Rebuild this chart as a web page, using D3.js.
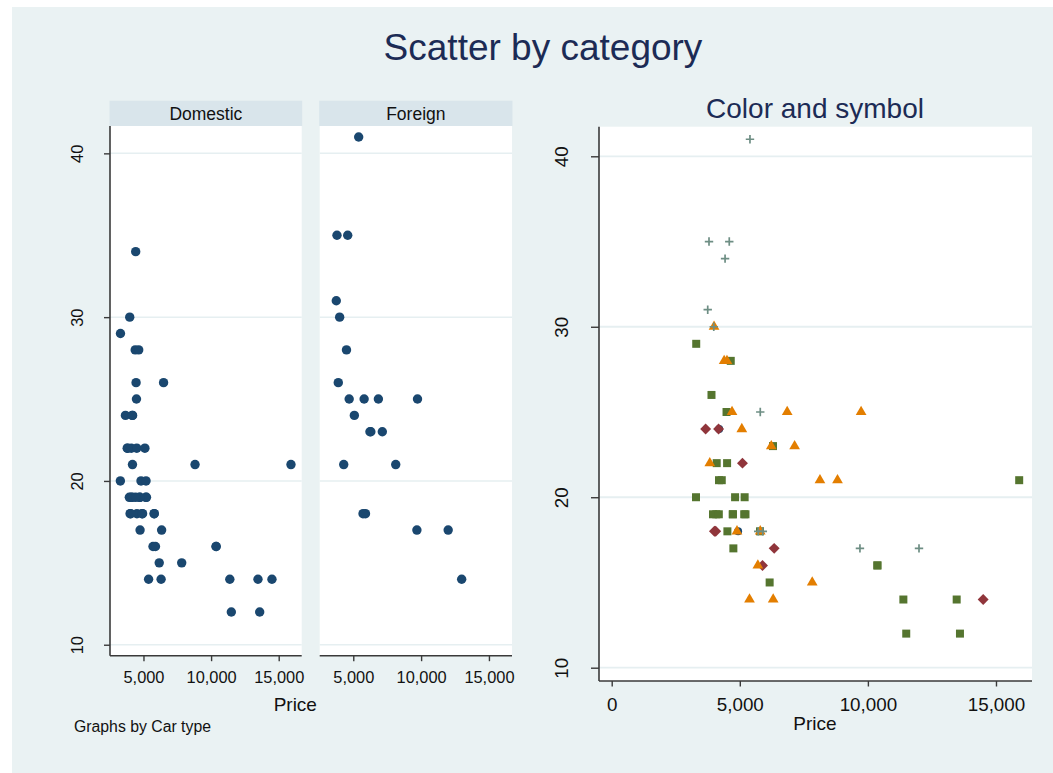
<!DOCTYPE html>
<html><head><meta charset="utf-8">
<script src="https://cdn.jsdelivr.net/npm/d3@7"></script>
<style>html,body{margin:0;padding:0;background:#fff}svg{display:block}text{font-family:"Liberation Sans",Arial,Helvetica,sans-serif}</style>
</head><body>
<svg id="c" width="1053" height="773"></svg>
<script>
// Stata auto dataset: price, mpg, rep78 (null = missing), foreign (0 Domestic, 1 Foreign)
const price = [4099,4749,3799,4816,7827,5788,4453,5189,10372,4082,11385,14500,15906,3299,5705,4504,5104,3667,3955,3984,4010,5886,6342,4389,4187,11497,13594,13466,3829,5379,6165,4516,6303,3291,8814,5172,4733,4890,4181,4195,10371,4647,4425,4482,6486,4060,5798,4934,5222,4723,4424,4172,
  9690,6295,9735,6229,4589,5079,8129,4296,5799,4499,3995,12990,3895,3798,5899,3748,5719,7140,5397,4697,6850,11995];
const mpg = [22,17,22,20,15,18,26,20,16,19,14,14,21,29,16,22,22,24,19,30,18,16,17,28,21,12,12,14,22,14,15,18,14,20,21,19,19,18,19,24,16,28,34,25,26,18,18,18,19,19,19,24,
  17,23,25,23,35,24,21,21,25,28,30,14,26,35,18,31,18,23,41,25,25,17];
const rep78 = [3,3,null,3,4,3,null,3,3,3,3,2,3,3,4,3,2,2,3,5,2,2,2,4,3,3,3,3,4,4,3,3,4,3,4,3,3,4,3,1,3,3,5,3,null,2,4,1,3,3,null,2,
  5,3,4,4,5,4,4,3,5,4,4,null,3,5,5,5,5,4,5,4,4,5];
const foreign = [0,0,0,0,0,0,0,0,0,0,0,0,0,0,0,0,0,0,0,0,0,0,0,0,0,0,0,0,0,0,0,0,0,0,0,0,0,0,0,0,0,0,0,0,0,0,0,0,0,0,0,0,
  1,1,1,1,1,1,1,1,1,1,1,1,1,1,1,1,1,1,1,1,1,1];
const groupNames = ["Domestic","Foreign"];
const repLevels = [1,2,3,4,5];
const yTicks = [10,20,30,40];
const xTicksLeft = [5000,10000,15000];
const xTicksRight = [0,5000,10000,15000];
const mainTitle = "Scatter by category";
const rightTitle = "Color and symbol";
const xLabel = "Price";
const byNote = "Graphs by Car type";

const cars = price.map((p,i)=>({price:p, mpg:mpg[i], rep:rep78[i], foreign:foreign[i]}));

const svg = d3.select("#c");
const BG = "#eaf2f3", GRID = "#e6eff1", AX = "#3a3a3a", TXT = "#111";
const FONT = '"Liberation Sans",Arial,Helvetica,sans-serif';
const fmt = d3.format(",");

svg.append("rect").attr("x",12).attr("y",7).attr("width",1041).attr("height",766).attr("fill",BG);

svg.append("text").attr("x",543).attr("y",60).attr("text-anchor","middle")
  .attr("font-size",37).attr("fill","#1c2b55").text(mainTitle);

// ---------- Left: by-group panels ----------
const yL = d3.scaleLinear().domain([9.33,41.67]).range([655.7,126]);
const panels = [{x0:110,x1:301.7},{x0:319.7,x1:512}];
panels.forEach((pn,gi)=>{
  const xs = d3.scaleLinear().domain([2525,16700]).range([pn.x0,pn.x1]);
  const g = svg.append("g");
  g.append("rect").attr("x",pn.x0-0.5).attr("y",100.7).attr("width",pn.x1-pn.x0+1).attr("height",25.3).attr("fill","#d9e5eb");
  g.append("text").attr("x",(pn.x0+pn.x1)/2).attr("y",119.5).attr("text-anchor","middle")
    .attr("font-size",17.5).attr("fill",TXT).text(groupNames[gi]);
  g.append("rect").attr("x",pn.x0).attr("y",126).attr("width",pn.x1-pn.x0).attr("height",655.7-126).attr("fill","#fff");
  g.selectAll(".gl").data(yTicks).join("line")
    .attr("x1",pn.x0).attr("x2",pn.x1).attr("y1",d=>yL(d)).attr("y2",d=>yL(d))
    .attr("stroke",GRID).attr("stroke-width",1.5);
  const xa = g.append("g").attr("transform","translate(0,655.7)")
    .call(d3.axisBottom(xs).tickValues(xTicksLeft).tickFormat(fmt).tickSize(5.5).tickSizeOuter(0));
  xa.select(".domain").attr("stroke",AX).attr("stroke-width",1.6).attr("d",`M${pn.x0},0H${pn.x1}`);
  xa.selectAll(".tick line").attr("stroke",AX).attr("stroke-width",1.4);
  xa.selectAll(".tick text").attr("font-family",FONT).attr("font-size",16.4).attr("fill",TXT)
    .attr("y",27.6).attr("dy",0);
  if(gi===0){
    const ya = g.append("g").attr("transform",`translate(${pn.x0},0)`)
      .call(d3.axisLeft(yL).tickValues(yTicks).tickSize(6).tickSizeOuter(0));
    ya.select(".domain").attr("stroke",AX).attr("stroke-width",1.6).attr("d","M0,126V655.7");
    ya.selectAll(".tick line").attr("stroke",AX).attr("stroke-width",1.4);
    ya.selectAll(".tick text").attr("font-family",FONT).attr("font-size",16.4).attr("fill",TXT)
      .attr("x",0).attr("dy",0).attr("text-anchor","middle").attr("transform","translate(-27.3,0) rotate(-90)");
  }
  g.selectAll("circle.pt").data(cars.filter(c=>c.foreign===gi)).join("circle")
    .attr("cx",d=>xs(d.price)).attr("cy",d=>yL(d.mpg)).attr("r",4.7).attr("fill","#1a476f");
});
svg.append("text").attr("x",295.3).attr("y",710.7).attr("text-anchor","middle")
  .attr("font-size",19).attr("fill",TXT).text(xLabel);
svg.append("text").attr("x",74).attr("y",732.3).attr("font-size",15.8).attr("fill",TXT).text(byNote);

// ---------- Right: colour and symbol ----------
const xR = d3.scaleLinear().domain([-496,16406]).range([599,1032]);
const yR = d3.scaleLinear().domain([9.22,41.736]).range([681,126.7]);
const gR = svg.append("g");
gR.append("text").attr("x",815).attr("y",118).attr("text-anchor","middle")
  .attr("font-size",28).attr("fill","#1c2b55").text(rightTitle);
gR.append("rect").attr("x",599).attr("y",126.7).attr("width",1032-599).attr("height",681-126.7).attr("fill","#fff");
gR.selectAll(".gl").data(yTicks).join("line")
  .attr("x1",599).attr("x2",1032).attr("y1",d=>yR(d)).attr("y2",d=>yR(d))
  .attr("stroke",GRID).attr("stroke-width",1.8);
const xaR = gR.append("g").attr("transform","translate(0,681)")
  .call(d3.axisBottom(xR).tickValues(xTicksRight).tickFormat(fmt).tickSize(5.5).tickSizeOuter(0));
xaR.select(".domain").attr("stroke",AX).attr("stroke-width",1.6).attr("d","M599,0H1032");
xaR.selectAll(".tick line").attr("stroke",AX).attr("stroke-width",1.4);
xaR.selectAll(".tick text").attr("font-family",FONT).attr("font-size",18.8).attr("fill",TXT).attr("y",30).attr("dy",0);
const yaR = gR.append("g").attr("transform","translate(599,0)")
  .call(d3.axisLeft(yR).tickValues(yTicks).tickSize(8).tickSizeOuter(0));
yaR.select(".domain").attr("stroke",AX).attr("stroke-width",1.6).attr("d","M0,126.7V681");
yaR.selectAll(".tick line").attr("stroke",AX).attr("stroke-width",1.4);
yaR.selectAll(".tick text").attr("font-family",FONT).attr("font-size",18.8).attr("fill",TXT)
  .attr("x",0).attr("dy",0).attr("text-anchor","middle").attr("transform","translate(-31.3,0) rotate(-90)");
gR.append("text").attr("x",815).attr("y",730).attr("text-anchor","middle")
  .attr("font-size",19).attr("fill",TXT).text(xLabel);

// Stata-like marker shapes
const diamondWide = {draw(ctx,size){const r=Math.sqrt(size/2);ctx.moveTo(0,-r);ctx.lineTo(r,0);ctx.lineTo(0,r);ctx.lineTo(-r,0);ctx.closePath();}};
const styles = {
  1:{color:"#1a476f", sym:d3.symbolCircle, size:50},
  2:{color:"#90353b", sym:diamondWide, size:60},
  3:{color:"#55752f", sym:d3.symbolSquare, size:64},
  4:{color:"#e37e00", sym:d3.symbolTriangle, size:50},
  5:{color:"#6e8e84", sym:null, size:0}
};
repLevels.forEach(r=>{
  const st = styles[r];
  const pts = cars.filter(c=>c.rep===r);
  if(st.sym){
    gR.selectAll(`path.r${r}`).data(pts).join("path")
      .attr("transform",d=>`translate(${xR(d.price)},${yR(d.mpg)})`)
      .attr("d",d3.symbol(st.sym,st.size)).attr("fill",st.color);
  } else {
    gR.selectAll(`path.r${r}`).data(pts).join("path")
      .attr("transform",d=>`translate(${xR(d.price)},${yR(d.mpg)})`)
      .attr("d","M-4.2,0H4.2M0,-4.2V4.2").attr("stroke",st.color).attr("stroke-width",1.7).attr("fill","none");
  }
});
</script>
</body></html>
